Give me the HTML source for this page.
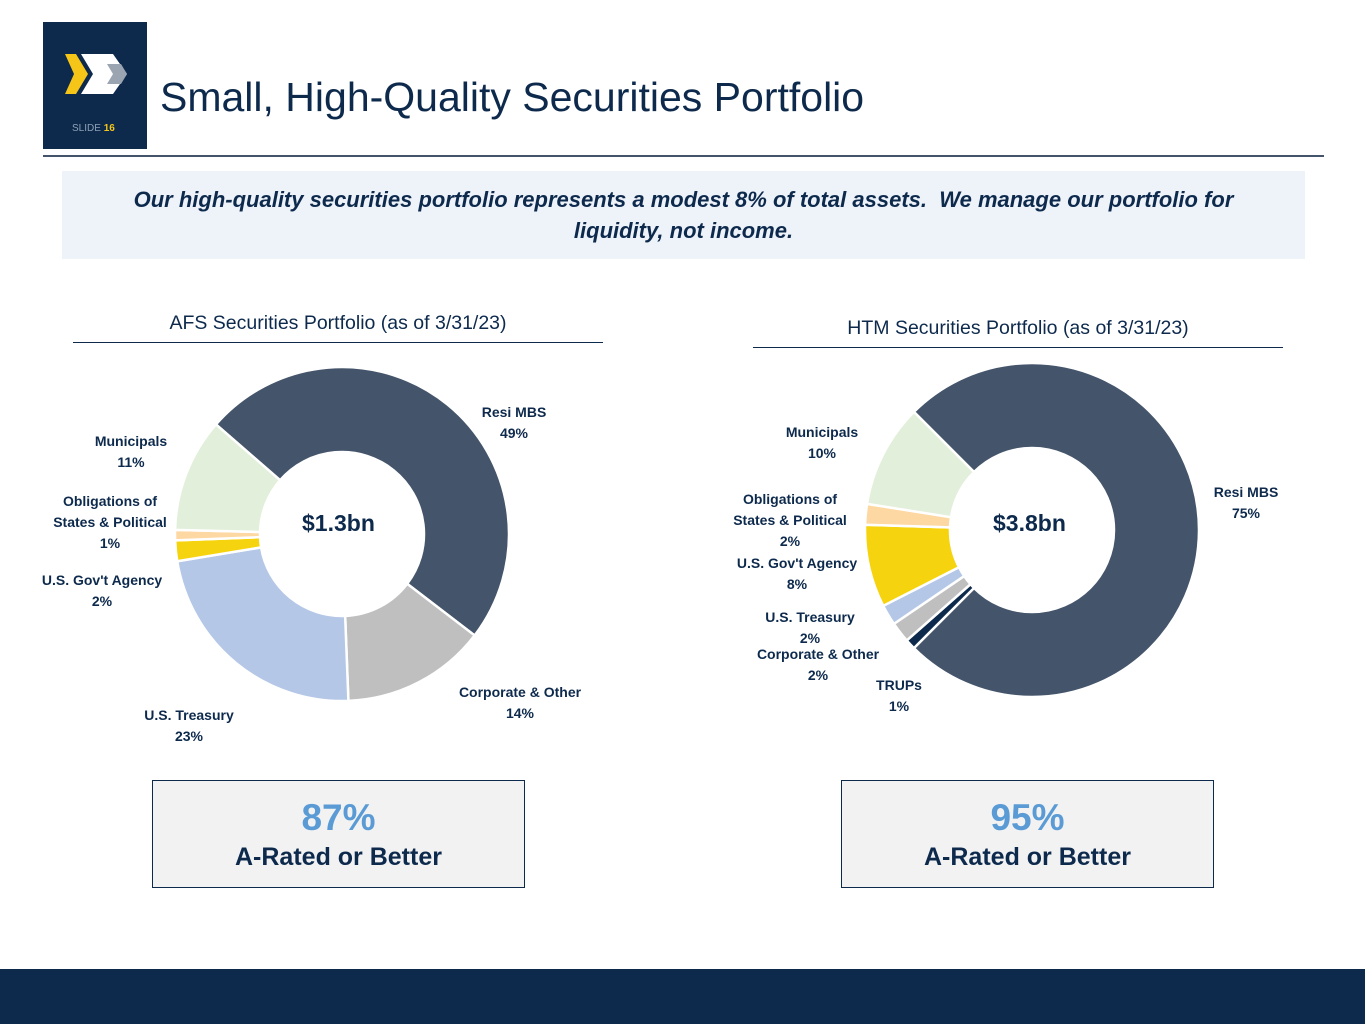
<!DOCTYPE html>
<html><head><meta charset="utf-8">
<style>
body{margin:0;width:1365px;height:1024px;position:relative;background:#fff;font-family:"Liberation Sans",sans-serif;overflow:hidden;color:#0d2a4d}
.abs{position:absolute}
.lbl{position:absolute;font-size:14px;font-weight:bold;text-align:center;color:#0d2a4d;line-height:21px;white-space:nowrap;transform:translateX(-50%)}
.box{position:absolute;border:1.5px solid #0d2a4d;background:#f2f2f2;text-align:center}
.box .big{font-size:37px;font-weight:bold;color:#5b9bd5;margin-top:16px;line-height:42px}
.box .sub{font-size:25px;font-weight:bold;color:#0d2a4d;margin-top:4px}
</style></head><body>
<div class="abs" style="left:43px;top:22px;width:104px;height:127px;background:#0d2a4d">
<svg width="104" height="127">
<polygon points="22,32 33,32 45,52 33,72 22,72 31,52" fill="#f5c518"/>
<polygon points="38,32 70,32 84,52 70,72 38,72 50,52" fill="#fff"/>
<polygon points="64,42 78,42 84,52 78,62 64,62 70,52" fill="#9aa5b1"/>
<text x="29" y="109" font-size="10" fill="#8da0b5" font-family="Liberation Sans">SLIDE <tspan fill="#f5c518" font-weight="bold">16</tspan></text>
</svg></div>
<div class="abs" style="left:160px;top:74px;font-size:41px;color:#0d2a4d;white-space:nowrap">Small, High-Quality Securities Portfolio</div>
<div class="abs" style="left:43px;top:155px;width:1281px;height:1.5px;background:#44546a"></div>
<div class="abs" style="left:62px;top:171px;width:1243px;height:88px;background:#eef2f9;font-size:22px;font-weight:bold;font-style:italic;text-align:center;line-height:31px;padding-top:13px;box-sizing:border-box;color:#0d2a4d">Our high-quality securities portfolio represents a modest 8% of total assets.&nbsp; We manage our portfolio for<br>liquidity, not income.</div>

<div class="abs" style="left:73px;width:530px;top:312px;text-align:center;font-size:19.5px;color:#0d2a4d">AFS Securities Portfolio (as of 3/31/23)</div>
<div class="abs" style="left:73px;top:342px;width:530px;height:1px;background:#0d2a4d"></div>
<div class="abs" style="left:753px;width:530px;top:317px;text-align:center;font-size:19.5px;color:#0d2a4d">HTM Securities Portfolio (as of 3/31/23)</div>
<div class="abs" style="left:753px;top:347px;width:530px;height:1px;background:#0d2a4d"></div>

<svg id="charts" class="abs" style="left:0;top:0" width="1365" height="1024"></svg>

<div class="lbl" style="left:514px;top:402px">Resi MBS<br>49%</div>
<div class="lbl" style="left:520px;top:682px">Corporate &amp; Other<br>14%</div>
<div class="lbl" style="left:189px;top:705px">U.S. Treasury<br>23%</div>
<div class="lbl" style="left:102px;top:570px">U.S. Gov't Agency<br>2%</div>
<div class="lbl" style="left:110px;top:491px">Obligations of<br>States &amp; Political<br>1%</div>
<div class="lbl" style="left:131px;top:431px">Municipals<br>11%</div>
<div class="abs" style="left:302px;top:510px;font-size:23px;font-weight:bold">$1.3bn</div>

<div class="lbl" style="left:1246px;top:482px">Resi MBS<br>75%</div>
<div class="lbl" style="left:899px;top:675px">TRUPs<br>1%</div>
<div class="lbl" style="left:818px;top:644px">Corporate &amp; Other<br>2%</div>
<div class="lbl" style="left:810px;top:607px">U.S. Treasury<br>2%</div>
<div class="lbl" style="left:797px;top:553px">U.S. Gov't Agency<br>8%</div>
<div class="lbl" style="left:790px;top:489px">Obligations of<br>States &amp; Political<br>2%</div>
<div class="lbl" style="left:822px;top:422px">Municipals<br>10%</div>
<div class="abs" style="left:993px;top:510px;font-size:23px;font-weight:bold">$3.8bn</div>

<div class="box" style="left:152px;top:780px;width:371px;height:106px"><div class="big">87%</div><div class="sub">A-Rated or Better</div></div>
<div class="box" style="left:841px;top:780px;width:371px;height:106px"><div class="big">95%</div><div class="sub">A-Rated or Better</div></div>

<div class="abs" style="left:0;top:969px;width:1365px;height:55px;background:#0d2a4d"></div>

<script>
const afsCategories = ["Resi MBS","Corporate & Other","U.S. Treasury","U.S. Gov't Agency","Obligations of States & Political","Municipals"];
const afsValues = [49,14,23,2,1,11];
const afsColors = ["#44546a","#bfbfbf","#b4c7e7","#f5d40f","#fdd8a3","#e2efda"];
const htmCategories = ["Resi MBS","TRUPs","Corporate & Other","U.S. Treasury","U.S. Gov't Agency","Obligations of States & Political","Municipals"];
const htmValues = [75,1,2,2,8,2,10];
const htmColors = ["#44546a","#0d2a4d","#bfbfbf","#b4c7e7","#f5d40f","#fdd8a3","#e2efda"];

const svg = document.getElementById('charts');
const NS = 'http://www.w3.org/2000/svg';
function pt(cx,cy,r,a){const t=a*Math.PI/180;return [cx+r*Math.sin(t),cy-r*Math.cos(t)];}
function donut(prefix,cats,vals,cols,cx,cy,ro,ri,start){
  const total=vals.reduce((a,b)=>a+b,0);
  let a=start;
  vals.forEach((v,i)=>{
    const sweep=v/total*360, b=a+sweep;
    const large=sweep>180?1:0;
    const p1=pt(cx,cy,ro,a),p2=pt(cx,cy,ro,b),p3=pt(cx,cy,ri,b),p4=pt(cx,cy,ri,a);
    const p=document.createElementNS(NS,'path');
    p.setAttribute('d',`M${p1[0]},${p1[1]} A${ro},${ro} 0 ${large} 1 ${p2[0]},${p2[1]} L${p3[0]},${p3[1]} A${ri},${ri} 0 ${large} 0 ${p4[0]},${p4[1]} Z`);
    p.setAttribute('fill',cols[i]);
    p.setAttribute('stroke','#fff');
    p.setAttribute('stroke-width','2.5');
    
    
    svg.appendChild(p);
    a=b;
  });
}
donut('afs',afsCategories,afsValues,afsColors,342,534,167,82,-49);
donut('htm',htmCategories,htmValues,htmColors,1032,530,167,82,-45);
</script>
</body></html>
